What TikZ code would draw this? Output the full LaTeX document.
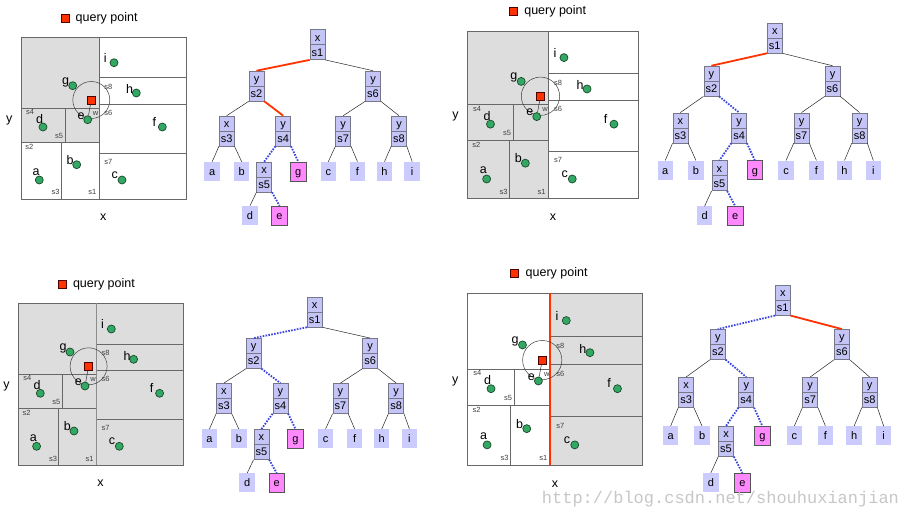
\documentclass[tikz,border=0pt]{standalone}
\usepackage{fontspec}
\setmainfont{Liberation Sans}
\newfontfamily\wmfont{Liberation Mono}
\definecolor{nodefill}{HTML}{C4C4F6}
\definecolor{leaffill}{HTML}{CBCBFD}
\definecolor{nodeborder}{HTML}{77778A}
\definecolor{magfill}{HTML}{FF88FF}
\definecolor{magborder}{HTML}{555555}
\definecolor{regiongray}{HTML}{DDDDDD}
\definecolor{maplinec}{HTML}{686868}
\definecolor{ptfill}{HTML}{33A865}
\definecolor{ptborder}{HTML}{1A4A2A}
\definecolor{qred}{HTML}{FF3300}
\definecolor{dotblue}{HTML}{3A44E0}
\newcommand\tcell[2]{\vbox{\hbox to 15pt{\hss\rule[-3.5pt]{0pt}{15pt}#1\hss}\nointerlineskip\hbox to 15pt{\hss\rule[-3.5pt]{0pt}{15pt}#2\hss}}}
\tikzset{
 inode/.style={draw=nodeborder, fill=nodefill, line width=0.6pt, minimum width=15pt, minimum height=30pt, inner sep=0pt, anchor=north, font=\fontsize{11}{13}\selectfont,
   path picture={\draw[nodeborder, line width=0.6pt] (path picture bounding box.west) -- (path picture bounding box.east);}},
 leafbox/.style={fill=leaffill, minimum width=15.5pt, minimum height=19pt, inner sep=0pt, anchor=north, text height=8pt, text depth=0pt, font=\fontsize{11}{13}\selectfont},
 hitleaf/.style={leafbox, fill=magfill, draw=magborder, line width=0.6pt},
 edgeplain/.style={draw=black!85, line width=0.5pt},
 edgered/.style={draw=qred, line width=1.8pt},
 edgeblue/.style={draw=dotblue, line width=1.8pt, dash pattern=on 1.6pt off 1.3pt},
 mapl/.style={draw=maplinec, line width=0.7pt},
 splitred/.style={draw=qred, line width=2pt},
 splitgray/.style={draw=black!45, line width=1.6pt},
 searchc/.style={draw=black!75, line width=0.5pt},
 wline/.style={draw=black!80, line width=0.5pt},
 pt/.style={circle, fill=ptfill, draw=ptborder, line width=0.7pt, minimum size=8pt, inner sep=0pt},
 qsq/.style={rectangle, fill=qred, draw=black!70!red, line width=0.5pt, minimum size=8pt, inner sep=0pt},
 ptlab/.style={inner sep=0pt, font=\fontsize{12.5}{14}\selectfont},
 smlab/.style={inner sep=0pt, text=black!75, font=\fontsize{7.5}{9}\selectfont},
 legtext/.style={inner sep=0pt, anchor=west, font=\fontsize{12.5}{14}\selectfont},
}
% tree: #1 prefix, #2 style s1-s2, #3 style s1-s6, #4 style s2-s4
\newcommand\kdtree[4]{%
 \node[inode] (#1s1) at (0,0) {\tcell{x}{s1}};
 \node[inode] (#1s2) at (-61,41.4) {\tcell{y}{s2}};
 \node[inode] (#1s6) at (55.5,41.4) {\tcell{y}{s6}};
 \node[inode] (#1s3) at (-90.8,86.4) {\tcell{x}{s3}};
 \node[inode] (#1s4) at (-34.3,86.4) {\tcell{y}{s4}};
 \node[inode] (#1s7) at (25.7,86.4) {\tcell{y}{s7}};
 \node[inode] (#1s8) at (81.5,86.4) {\tcell{y}{s8}};
 \node[inode] (#1s5) at (-53.3,132.4) {\tcell{x}{s5}};
 \node[leafbox] (#1a) at (-105.3,132.4) {a};
 \node[leafbox] (#1b) at (-75.8,132.4) {b};
 \node[hitleaf] (#1g) at (-19.2,132.4) {g};
 \node[leafbox] (#1c) at (10.8,132.4) {c};
 \node[leafbox] (#1f) at (40,132.4) {f};
 \node[leafbox] (#1h) at (67,132.4) {h};
 \node[leafbox] (#1i) at (94.7,132.4) {i};
 \node[leafbox] (#1d) at (-67.5,176.4) {d};
 \node[hitleaf] (#1e) at (-38,176.4) {e};
 \draw[#2] (#1s1.south west) -- (#1s2.north);
 \draw[#3] (#1s1.south east) -- (#1s6.north);
 \draw[edgeplain] (#1s2.south west) -- (#1s3.north);
 \draw[#4] (#1s2.south east) -- (#1s4.north);
 \draw[edgeplain] (#1s3.south west) -- (#1a.north);
 \draw[edgeplain] (#1s3.south east) -- (#1b.north);
 \draw[edgeblue] (#1s4.south west) -- (#1s5.north);
 \draw[edgeblue] (#1s4.south east) -- (#1g.north);
 \draw[edgeplain] (#1s5.south west) -- (#1d.north);
 \draw[edgeblue] (#1s5.south east) -- (#1e.north);
 \draw[edgeplain] (#1s6.south west) -- (#1s7.north);
 \draw[edgeplain] (#1s6.south east) -- (#1s8.north);
 \draw[edgeplain] (#1s7.south west) -- (#1c.north);
 \draw[edgeplain] (#1s7.south east) -- (#1f.north);
 \draw[edgeplain] (#1s8.south west) -- (#1h.north);
 \draw[edgeplain] (#1s8.south east) -- (#1i.north);
}
% map: #1 prefix, #2 style of s1 split line
\newcommand\kdmap[2]{%
 \draw[mapl] (0,105.3) -- (78,105.3);
 \draw[mapl] (0,71.3) -- (78,71.3);
 \draw[mapl] (44.3,71.3) -- (44.3,105.3);
 \draw[mapl] (40.3,105.3) -- (40.3,162);
 \draw[mapl] (78,67.3) -- (165,67.3);
 \draw[mapl] (78,40.7) -- (165,40.7);
 \draw[mapl] (78,116.3) -- (165,116.3);
 \draw[mapl] (0,0) rectangle (165,162);
 \draw[#2] (78,0) -- (78,162);
 \coordinate (#1q) at (70.3,63);
 \draw[searchc] (#1q) circle[radius=18.5];
 \node[pt] (#1pi) at (93,25.7) {};
 \node[pt] (#1pg) at (51.7,48.7) {};
 \node[pt] (#1ph) at (115.3,56) {};
 \node[pt] (#1pe) at (66.7,82.7) {};
 \node[pt] (#1pd) at (22,90) {};
 \node[pt] (#1pf) at (141.3,90) {};
 \node[pt] (#1pb) at (55.7,127.7) {};
 \node[pt] (#1pa) at (18.3,143) {};
 \node[pt] (#1pc) at (101,143) {};
 \node[qsq] (#1qs) at (#1q) {};
 \draw[wline] (#1qs) -- (#1pe);
 \node[ptlab] (#1li) at (84.3,21) {i};
 \node[ptlab] (#1lg) at (44.7,45.3) {g};
 \node[ptlab] (#1lh) at (108.7,52.3) {h};
 \node[ptlab] (#1le) at (60,78.7) {e};
 \node[ptlab] (#1ld) at (18.7,82) {d};
 \node[ptlab] (#1lf) at (133.3,85) {f};
 \node[ptlab] (#1lb) at (49,123) {b};
 \node[ptlab] (#1la) at (15,134.7) {a};
 \node[ptlab] (#1lc) at (93.7,138.3) {c};
 \node[smlab] (#1ls4) at (9,75) {s4};
 \node[smlab] (#1ls5) at (38,98.7) {s5};
 \node[smlab] (#1ls2) at (8.3,109.7) {s2};
 \node[smlab] (#1ls3) at (34.7,155.3) {s3};
 \node[smlab] (#1ls1) at (71.3,155.3) {s1};
 \node[smlab] (#1ls7) at (87.3,124.7) {s7};
 \node[smlab] (#1ls8) at (87.3,49.7) {s8};
 \node[smlab] (#1ls6) at (87.3,75.7) {s6};
 \node[smlab] (#1lw) at (74.7,76.3) {w};
 \node[ptlab] (#1ay) at (-11.7,83) {y};
 \node[ptlab] (#1ax) at (82.3,179.7) {x};
 \node[qsq] (#1legsq) at (44,-19) {};
 \node[legtext] (#1legtx) at (54.5,-19) {query point};
}
\begin{document}
\begin{tikzpicture}[x=1pt, y=-1pt]
\useasboundingbox (0,0) rectangle (906,516);
\fill[white] (0,0) rectangle (906,516);
% panel 1
\begin{scope}[shift={(21,37)}]
 \fill[regiongray] (0,0) rectangle (78,105.3);
 \kdmap{ma}{mapl}
\end{scope}
\begin{scope}[shift={(317.5,29.3)}]
 \kdtree{ta}{edgered}{edgeplain}{edgered}
\end{scope}
% panel 2
\begin{scope}[shift={(467.7,31)}, scale=1.035]
 \fill[regiongray] (0,0) rectangle (78,162);
 \kdmap{mb}{mapl}
\end{scope}
\begin{scope}[shift={(774.8,22.7)}, scale=1.04]
 \kdtree{tb}{edgered}{edgeplain}{edgeblue}
\end{scope}
% panel 3
\begin{scope}[shift={(18.3,303.3)}]
 \fill[regiongray] (0,0) rectangle (165,162);
 \kdmap{mc}{splitgray}
\end{scope}
\begin{scope}[shift={(314.7,296.7)}]
 \kdtree{tc}{edgeblue}{edgeplain}{edgeblue}
\end{scope}
% panel 4
\begin{scope}[shift={(467.7,293.3)}, scale=1.06]
 \fill[regiongray] (78,0) rectangle (165,162);
 \kdmap{md}{splitred}
\end{scope}
\begin{scope}[shift={(782.8,285)}, scale=1.065]
 \kdtree{td}{edgeblue}{edgered}{edgeblue}
\end{scope}
\node[anchor=base west, inner sep=0pt, text=black!22, font=\wmfont\fontsize{17}{19}\selectfont] (wm) at (541.7,503) {http://blog.csdn.net/shouhuxianjian};
\end{tikzpicture}
\end{document}
